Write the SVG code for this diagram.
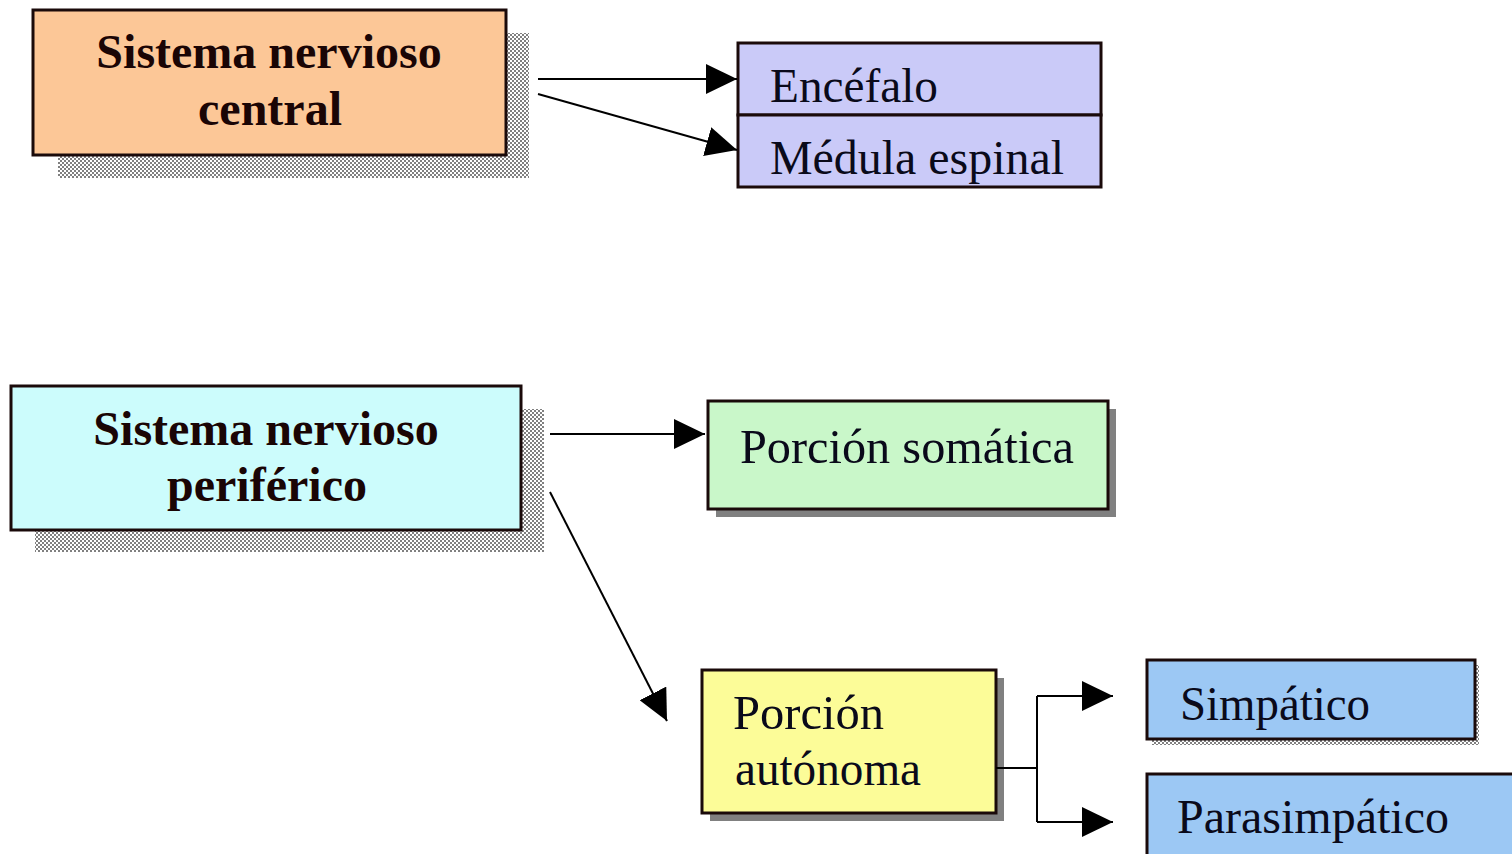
<svg xmlns="http://www.w3.org/2000/svg" width="1512" height="854" viewBox="0 0 1512 854">
<defs>
<pattern id="chk" width="4" height="4" patternUnits="userSpaceOnUse">
<rect width="4" height="4" fill="#ffffff"/>
<rect width="2" height="2" fill="#808080"/>
<rect x="2" y="2" width="2" height="2" fill="#808080"/>
</pattern>
<marker id="ah" markerUnits="userSpaceOnUse" markerWidth="32" markerHeight="30" refX="31" refY="15" orient="auto">
<path d="M0,0 L31,15 L0,30 Z" fill="#000"/>
</marker>
</defs>
<style>
.box{stroke:#1a0a0a;stroke-width:3}
.bold{font-family:"Liberation Serif","Times New Roman",serif;font-weight:bold;font-size:48px;fill:#1a0505;text-anchor:middle}
.reg{font-family:"Liberation Serif","Times New Roman",serif;font-size:48px;fill:#0a0a1a}
.con{stroke:#000;stroke-width:2;fill:none}
</style>
<rect width="1512" height="854" fill="#ffffff"/>

<g id="snc">
<rect x="58" y="33" width="471" height="145" fill="url(#chk)"/>
<rect class="box" x="33" y="10" width="473" height="145" fill="#fcc797"/>
<text class="bold" x="269" y="68">Sistema nervioso</text>
<text class="bold" x="270" y="125">central</text>
</g>

<g id="encefalo">
<rect class="box" x="738" y="43" width="363" height="72" fill="#cacaf8"/>
<text class="reg" x="770" y="102" textLength="168" lengthAdjust="spacingAndGlyphs">Encéfalo</text>
</g>
<g id="medula">
<rect class="box" x="738" y="115" width="363" height="72" fill="#cacaf8"/>
<text class="reg" x="770" y="174" textLength="294" lengthAdjust="spacingAndGlyphs">Médula espinal</text>
</g>

<g id="snp">
<rect x="35" y="409" width="509" height="143" fill="url(#chk)"/>
<rect class="box" x="11" y="386" width="510" height="144" fill="#ccfcfc"/>
<text class="bold" x="266" y="445">Sistema nervioso</text>
<text class="bold" x="267" y="501">periférico</text>
</g>

<g id="somatica">
<rect x="716" y="409" width="400" height="108" fill="#808080"/>
<rect class="box" x="708" y="401" width="400" height="108" fill="#c9f7c9"/>
<text class="reg" x="740" y="463" textLength="334" lengthAdjust="spacingAndGlyphs">Porción somática</text>
</g>

<g id="autonoma">
<rect x="710" y="678" width="294" height="143" fill="#808080"/>
<rect class="box" x="702" y="670" width="294" height="143" fill="#fcfc98"/>
<text class="reg" x="733" y="729" textLength="151" lengthAdjust="spacingAndGlyphs">Porción</text>
<text class="reg" x="735" y="785" textLength="186" lengthAdjust="spacingAndGlyphs">autónoma</text>
</g>

<g id="simpatico">
<rect x="1152" y="665" width="327" height="80" fill="url(#chk)"/>
<rect class="box" x="1147" y="660" width="328" height="79" fill="#9cc8f4"/>
<text class="reg" x="1180" y="720" textLength="190" lengthAdjust="spacingAndGlyphs">Simpático</text>
</g>

<g id="parasimpatico">
<rect class="box" x="1147" y="774" width="368" height="90" fill="#9cc8f4"/>
<text class="reg" x="1177" y="833" textLength="272" lengthAdjust="spacingAndGlyphs">Parasimpático</text>
</g>

<g id="connectors">
<line class="con" x1="538" y1="79" x2="737" y2="79" marker-end="url(#ah)"/>
<line class="con" x1="538" y1="94" x2="737" y2="150" marker-end="url(#ah)"/>
<line class="con" x1="550" y1="434" x2="705" y2="434" marker-end="url(#ah)"/>
<line class="con" x1="550" y1="492" x2="667" y2="721" marker-end="url(#ah)"/>
<polyline class="con" points="996,768 1037,768"/>
<polyline class="con" points="1037,822 1037,696"/>
<line class="con" x1="1037" y1="696" x2="1113" y2="696" marker-end="url(#ah)"/>
<line class="con" x1="1037" y1="822" x2="1113" y2="822" marker-end="url(#ah)"/>
</g>
</svg>
